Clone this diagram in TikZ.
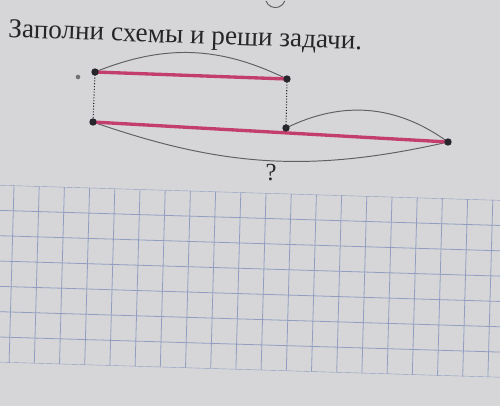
\documentclass[tikz,border=0pt]{standalone}
\usepackage{fontspec}
\setmainfont{Liberation Serif}
\definecolor{paper}{RGB}{214,214,217}
\definecolor{segpink}{RGB}{196,62,108}
\definecolor{arcgray}{RGB}{95,95,100}
\definecolor{dotgray}{RGB}{38,38,44}
\definecolor{gridblue}{RGB}{145,158,192}
\tikzset{
  seg/.style={draw=segpink, line width=1.9pt},
  arcline/.style={draw=arcgray, line width=0.55pt},
  dropline/.style={draw=dotgray, densely dotted, line width=0.6pt},
  pt/.style={circle, fill=dotgray, inner sep=0pt, minimum size=4.2pt},
  gridline/.style={draw=gridblue, line width=0.45pt}
}
\begin{document}
\begin{tikzpicture}[x=0.02cm, y=0.02cm]
  \fill[paper] (0,0) rectangle (500,-406);
  \useasboundingbox (0,0) rectangle (500,-406);

  % title
  \node[rotate=-2, anchor=west, font=\fontsize{15.5}{18}\selectfont, text=black!85, inner sep=0pt] (title) at (8,-31)
    {Заполни схемы и реши задачи.};
  % cut-off circle from previous task
  \draw[arcline] (266,-1) arc[start angle=200, end angle=340, radius=10];

  % points
  \coordinate (a) at (95,-72);
  \coordinate (b) at (287,-79);
  \coordinate (c) at (93,-122);
  \coordinate (d) at (286,-128);
  \coordinate (e) at (448,-142);

  % arcs
  \draw[arcline] (a) to[bend left=24] (b);
  \draw[arcline] (d) to[bend left=31] (e);
  \draw[arcline] (c) to[bend right=16] (e);
    \node[font=\fontsize{14}{16}\selectfont, text=black!85] (ask) at (271,-173){?};

  % segments
  \draw[seg] (a) -- (b);
  \draw[seg] (c) -- (e);
  \draw[dropline] (a) -- (c);
  \draw[dropline] (b) -- (d);
  \foreach \p in {a,b,c,d,e}
    \node[pt] (dot-\p) at (\p) {};
  \node[circle, fill=black!55, inner sep=0pt, minimum size=2.6pt] (speck) at (78,-77) {};

  % grid
  \begin{scope}[cm={25.2,-0.76,-0.7,-25.3,(14,-185.5)}]
    \clip (-1,0) rectangle (21,7);
    \foreach \v in {0,...,7}
      \draw[gridline] (-1,\v) -- (21,\v);
    \foreach \u in {-1,...,20}
      \draw[gridline] (\u,0) -- (\u,7);
  \end{scope}
\end{tikzpicture}
\end{document}
